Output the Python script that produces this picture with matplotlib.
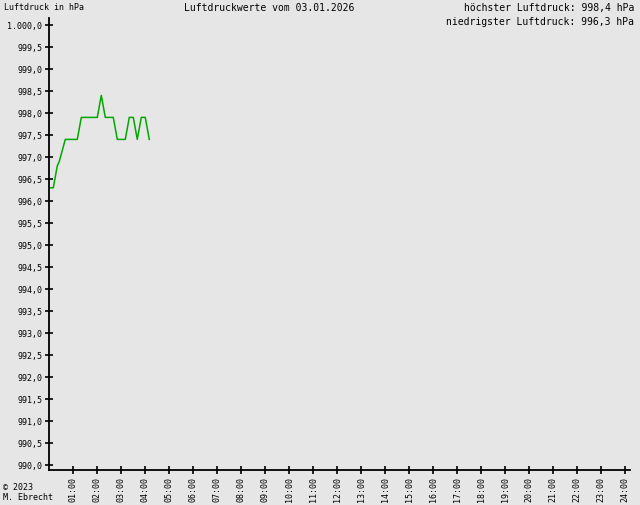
#!/usr/bin/python3
#
# luftdruck.py

import matplotlib
matplotlib.use('Agg')
import matplotlib.pyplot as plt
from matplotlib.ticker import FuncFormatter

# Messwerte (Minuten seit Mitternacht, hPa)
minutes = [0, 10, 20, 25, 40, 70, 80, 120, 130, 140, 160, 170, 190,
           200, 210, 220, 230, 240, 250]
pressure = [996.3, 996.3, 996.8, 996.9, 997.4, 997.4, 997.9, 997.9, 998.4,
            997.9, 997.9, 997.4, 997.4, 997.9, 997.9, 997.4, 997.9, 997.9,
            997.4]

hour_ticks = list(range(1, 25))
hour_labels = ["{:02d}:00".format(h) for h in hour_ticks]
y_ticks = [990.0 + 0.5 * i for i in range(21)]

title = "Luftdruckwerte vom 03.01.2026"
max_text = "höchster Luftdruck: 998,4 hPa"
min_text = "niedrigster Luftdruck: 996,3 hPa"

BG = '#e6e6e6'
MONO = 'DejaVu Sans Mono'


def fmt_hpa(v, pos):
    s = "{:.1f}".format(v).replace('.', ',')
    if v >= 1000:
        s = s[0] + '.' + s[1:]
    return s


fig = plt.figure(figsize=(6.4, 5.05), dpi=100, facecolor=BG)
ax = fig.add_axes([49.3 / 640, 35 / 505, (630 - 49.3) / 640, (470 - 18) / 505])
ax.set_facecolor(BG)

hours = [m / 60.0 for m in minutes]
ax.plot(hours, pressure, color='#00a800', linewidth=1.1)

ax.set_xlim(0, 24.2)
ax.set_ylim(990.0 - 5 / 44.0, 1000.0 + 7 / 44.0)

ax.set_yticks(y_ticks)
ax.yaxis.set_major_formatter(FuncFormatter(fmt_hpa))
ax.set_xticks(hour_ticks)
ax.set_xticklabels(hour_labels, rotation=90, va='top', ha='center')

for s in ['top', 'right']:
    ax.spines[s].set_visible(False)
for s in ['left', 'bottom']:
    ax.spines[s].set_linewidth(1.3)
    ax.spines[s].set_color('black')

ax.tick_params(axis='both', direction='inout', length=6, width=1.2,
               colors='black', labelsize=6)
ax.tick_params(axis='y', pad=2)
ax.tick_params(axis='x', pad=2)
for lab in ax.get_xticklabels() + ax.get_yticklabels():
    lab.set_family(MONO)

fig.text(4 / 640, 1 - 8 / 505, "Luftdruck in hPa", family=MONO, fontsize=6,
         va='center', ha='left')
fig.text(269 / 640, 1 - 8 / 505, title, family=MONO, fontsize=7,
         va='center', ha='center')
fig.text(634 / 640, 1 - 8 / 505, max_text, family=MONO, fontsize=7,
         va='center', ha='right')
fig.text(634 / 640, 1 - 22 / 505, min_text, family=MONO, fontsize=7,
         va='center', ha='right')
fig.text(3 / 640, 1 - 487 / 505, "© 2023", family=MONO, fontsize=6,
         va='center', ha='left')
fig.text(3 / 640, 1 - 498 / 505, "M. Ebrecht", family=MONO, fontsize=6,
         va='center', ha='left')

fig.savefig('out.png', dpi=100, facecolor=BG)
